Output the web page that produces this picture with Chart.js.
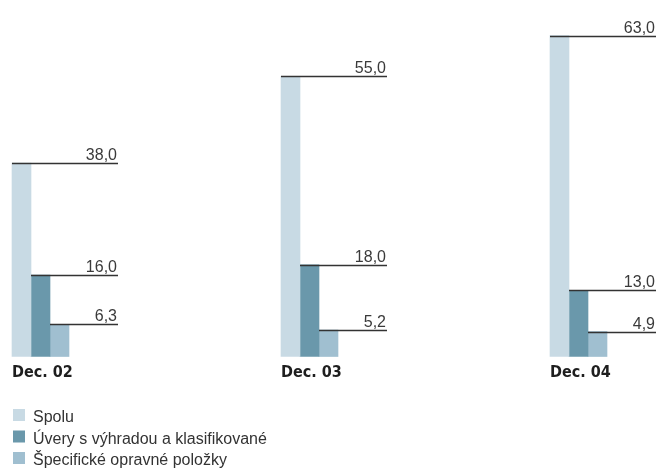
<!DOCTYPE html>
<html>
<head>
<meta charset="utf-8">
<script src="https://cdn.jsdelivr.net/npm/chart.js@4"></script>
<style>
  html, body { margin: 0; padding: 0; background: #fff; }
</style>
</head>
<body>
<canvas id="chart" width="658" height="468"></canvas>
<script>
// 데이터
const categories = ['Dec. 02', 'Dec. 03', 'Dec. 04'];
const seriesNames = ['Spolu', 'Úvery s výhradou a klasifikované', 'Špecifické opravné položky'];
const spolu = [38.0, 55.0, 63.0];
const uvery = [16.0, 18.0, 13.0];
const specificke = [6.3, 5.2, 4.9];
const seriesColors = ['#c8dae4', '#6a98ab', '#a0bfd0'];

const BAR_W = 19;      // 막대 두께
const LEADER_LEN = 106; // 그룹 시작점에서 값 라인 끝까지 길이

const fmt = v => v.toFixed(1).replace('.', ',');

// 값 라인 + 라벨, 카테고리 라벨, 범례를 그리는 플러그인
const annotate = {
  id: 'annotate',
  afterDatasetsDraw(chart) {
    const { ctx, chartArea, scales: { x } } = chart;
    const nSets = chart.data.datasets.length;
    ctx.save();

    // 값 라인과 숫자
    chart.data.datasets.forEach((ds, di) => {
      const meta = chart.getDatasetMeta(di);
      meta.data.forEach((bar, i) => {
        const groupStart = x.getPixelForValue(i) - BAR_W * nSets / 2;
        const x0 = bar.x - bar.width / 2;
        const x1 = groupStart + LEADER_LEN;
        const y = Math.round(bar.y) + 0.5;
        ctx.strokeStyle = '#333';
        ctx.lineWidth = 1.5;
        ctx.beginPath();
        ctx.moveTo(x0, y);
        ctx.lineTo(x1, y);
        ctx.stroke();

        ctx.fillStyle = '#3a3a3a';
        ctx.font = '16px "Liberation Sans", Arial, sans-serif';
        ctx.textAlign = 'right';
        ctx.textBaseline = 'alphabetic';
        ctx.fillText(fmt(ds.data[i]), x1 - 1, y - 4);
      });
    });

    // 카테고리 라벨 (그룹 왼쪽 정렬)
    ctx.fillStyle = '#1e1e1e';
    ctx.font = 'bold 16px "DejaVu Sans Condensed", "DejaVu Sans", sans-serif';
    ctx.textAlign = 'left';
    categories.forEach((c, i) => {
      const groupStart = x.getPixelForValue(i) - BAR_W * nSets / 2;
      ctx.fillText(c, groupStart, chartArea.bottom + 20);
    });

    // 범례
    ctx.font = '16px "Liberation Sans", Arial, sans-serif';
    chart.data.datasets.forEach((ds, di) => {
      const top = chartArea.bottom + 52.5 + di * 21.5;
      ctx.fillStyle = ds.backgroundColor;
      ctx.fillRect(13, top, 12, 12);
      ctx.fillStyle = '#333';
      ctx.fillText(ds.label, 33, top + 13);
    });

    ctx.restore();
  }
};

const chart = new Chart(document.getElementById('chart'), {
  type: 'bar',
  data: {
    labels: categories,
    datasets: [spolu, uvery, specificke].map((d, i) => ({
      label: seriesNames[i],
      data: d,
      backgroundColor: seriesColors[i],
      borderWidth: 0,
      barThickness: BAR_W,
      clip: false
    }))
  },
  options: {
    responsive: false,
    animation: false,
    devicePixelRatio: 1,
    layout: { padding: { left: 40.5, right: 79.5, top: 0, bottom: 111.5 } },
    plugins: {
      legend: { display: false },
      tooltip: { enabled: false }
    },
    scales: {
      x: { display: false, offset: false },
      y: { display: false, min: 0, max: 70 }
    }
  },
  plugins: [annotate]
});
</script>
</body>
</html>
